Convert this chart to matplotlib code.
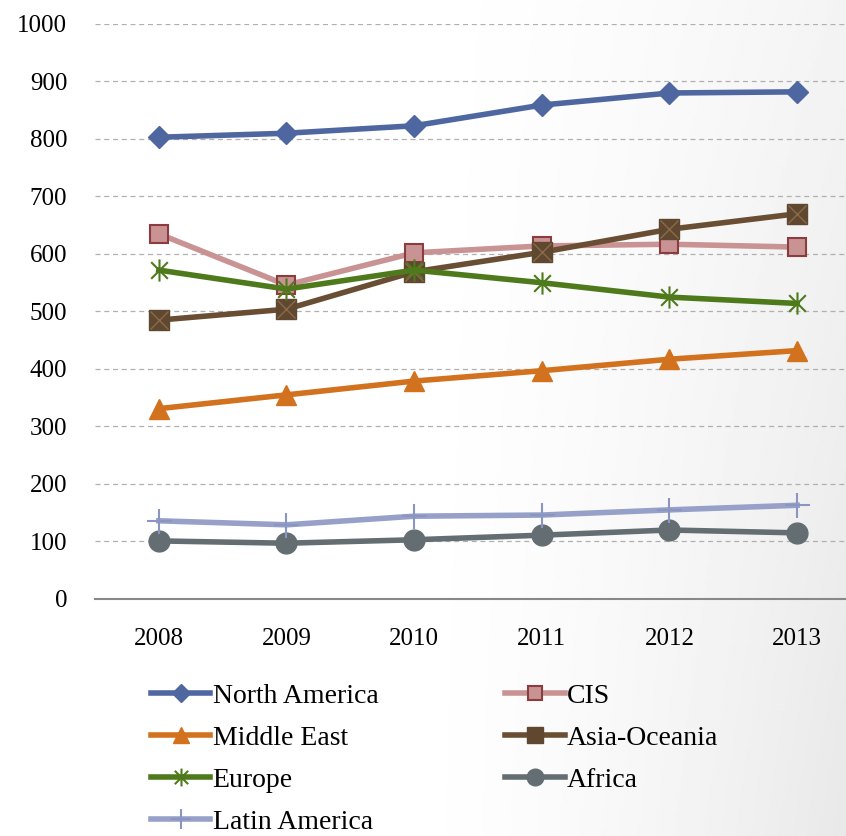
import matplotlib
matplotlib.use("Agg")
import matplotlib.pyplot as plt
import numpy as np
from matplotlib.path import Path

years = ["2008", "2009", "2010", "2011", "2012", "2013"]
north_america = [803, 810, 823, 859, 880, 882]
cis = [635, 546, 602, 614, 617, 612]
middle_east = [331, 355, 379, 397, 417, 432]
asia_oceania = [485, 504, 569, 603, 643, 670]
europe = [572, 539, 572, 550, 525, 514]
africa = [101, 97, 103, 111, 120, 115]
latin_america = [136, 129, 144, 146, 155, 163]
y_ticks = [0, 100, 200, 300, 400, 500, 600, 700, 800, 900, 1000]

plt.rcParams["font.family"] = ["Liberation Serif", "DejaVu Serif"]

# asterisk: vertical stroke plus an x
star = Path(
    [(0, -1), (0, 1), (-0.75, -0.75), (0.75, 0.75), (-0.75, 0.75), (0.75, -0.75)],
    [Path.MOVETO, Path.LINETO, Path.MOVETO, Path.LINETO, Path.MOVETO, Path.LINETO],
)

fig = plt.figure(figsize=(8.46, 8.36), dpi=100)

# soft grey shading towards the right edge
gx, gy = np.meshgrid(np.linspace(0, 1, 400), np.linspace(0, 1, 400))
shade = np.clip((gx - 0.45) / 0.55, 0, 1) ** 1.6 * (0.5 + 0.5 * gy)
bg = fig.add_axes([0, 0, 1, 1], zorder=-10)
bg.imshow(1 - 0.09 * shade, cmap="gray", vmin=0, vmax=1, aspect="auto",
          extent=[0, 1, 1, 0])
bg.axis("off")

ax = fig.add_axes([0.1123, 0.2835, 0.9054, 0.6878])
ax.set_facecolor("none")
x = np.arange(len(years))
lw = 4

h_na, = ax.plot(x, north_america, color="#4F67A0", lw=lw, marker="D",
                ms=11, mfc="#4F67A0", mec="#4F67A0", label="North America")
h_cis, = ax.plot(x, cis, color="#C99393", lw=lw, marker="s", ms=13,
                 mfc="#C99393", mec="#8C3B3F", mew=1.5, label="CIS")
h_me, = ax.plot(x, middle_east, color="#D2711E", lw=lw, marker="^", ms=14,
                mfc="#D2711E", mec="#D2711E", label="Middle East")
h_ao, = ax.plot(x, asia_oceania, color="#6A4E34", lw=lw, marker="s", ms=14,
                mfc="#604830", mec="#604830", label="Asia-Oceania")
ax.plot(x, asia_oceania, ls="none", marker="x", ms=13, mec="#8A6A48", mew=1)
h_eu, = ax.plot(x, europe, color="#4E7A1C", lw=lw, marker=star, ms=16,
                mfc="none", mec="#4E7A1C", mew=1.5, label="Europe")
h_af, = ax.plot(x, africa, color="#646E72", lw=lw, marker="o", ms=15,
                mfc="#646E72", mec="#646E72", label="Africa")
h_la, = ax.plot(x, latin_america, color="#96A0C8", lw=lw, marker="+", ms=18,
                mec="#8A95C2", mew=1.5, label="Latin America")

ax.set_xlim(-0.5, len(years) - 0.5)
ax.set_ylim(0, 1000)
ax.set_xticks(x)
ax.set_xticklabels(years)
ax.set_yticks(y_ticks)
ax.tick_params(length=0, labelsize=18)
ax.tick_params(axis="y", pad=20)
ax.tick_params(axis="x", pad=21)
for t in y_ticks[1:]:
    ax.axhline(t, color="#B0B0B0", lw=0.9, ls=(0, (4, 3)), zorder=0)
for side in ["left", "right", "top"]:
    ax.spines[side].set_visible(False)
ax.spines["bottom"].set_color("#888888")
ax.spines["bottom"].set_linewidth(1.5)

handles = [h_na, h_me, h_eu, h_la, h_cis, h_ao, h_af]
fig.legend(handles=handles, labels=[h.get_label() for h in handles],
           ncol=2, loc="upper left", bbox_to_anchor=(0.165, 0.196),
           frameon=False, fontsize=20, handlelength=2.15, handletextpad=0.08,
           columnspacing=4.55, labelspacing=0.6, borderaxespad=0,
           markerscale=0.8)

fig.savefig("out.png", dpi=100)
